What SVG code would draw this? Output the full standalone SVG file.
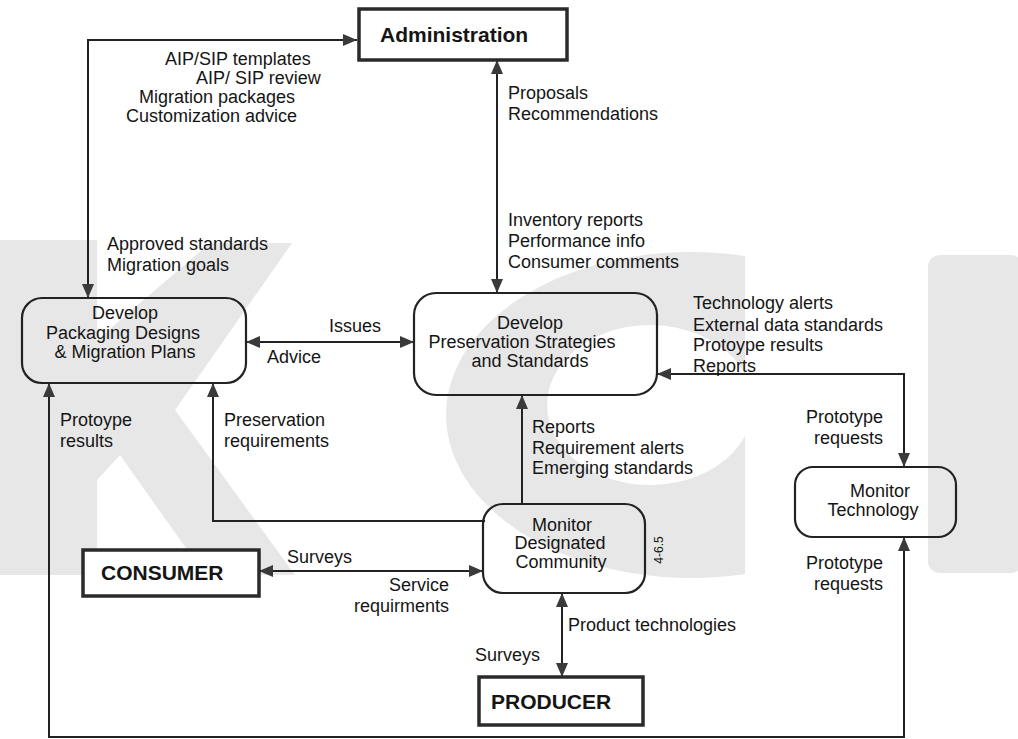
<svg xmlns="http://www.w3.org/2000/svg" width="1018" height="739" viewBox="0 0 1018 739">
<style>
text{font-family:"Liberation Sans",Arial,sans-serif;fill:#151515}
.l{font-size:18px}
.t{font-size:18px;text-anchor:middle}
.b{font-size:21px;font-weight:bold}
.box{fill:#fff;stroke:#2a2a2a;stroke-width:3.5}
.node{fill:none;stroke:#222;stroke-width:2.2}
.c{fill:none;stroke:#222;stroke-width:2}
.wm{fill:#e7e7e7}
</style>
<defs>
<marker id="ah" viewBox="0 0 14 12" refX="14" refY="6" markerWidth="14" markerHeight="12" orient="auto-start-reverse" markerUnits="userSpaceOnUse"><path d="M0,0 L14,6 L0,12 z" fill="#3a3a3a"/></marker>
</defs>
<rect width="1018" height="739" fill="#fff"/>
<g id="watermark">
<path class="wm" d="M0,240 H97 V340 L210,243 H292 L175,410 L295,575 H205 L120,455 L97,480 V575 H0 Z"/>
<path class="wm" d="M745,256 A245,163 0 1 0 745,574 L745,436 A103,80 0 1 1 745,374 Z"/>
<rect class="wm" x="928" y="255" width="95" height="318" rx="12"/>
</g>
<g id="connectors">
<path class="c" d="M88,298 V40 H357" marker-start="url(#ah)" marker-end="url(#ah)"/>
<path class="c" d="M497,60 V293" marker-start="url(#ah)" marker-end="url(#ah)"/>
<path class="c" d="M246,342 H414" marker-start="url(#ah)" marker-end="url(#ah)"/>
<path class="c" d="M904,467 V374 H657" marker-start="url(#ah)" marker-end="url(#ah)"/>
<path class="c" d="M485,521 H213 V383" marker-end="url(#ah)"/>
<path class="c" d="M522,504 V395" marker-end="url(#ah)"/>
<path class="c" d="M259,571 H483" marker-start="url(#ah)" marker-end="url(#ah)"/>
<path class="c" d="M562,593 V677" marker-start="url(#ah)" marker-end="url(#ah)"/>
<path class="c" d="M904,537 V737 H49 V383" marker-start="url(#ah)" marker-end="url(#ah)"/>
</g>
<g id="administration">
<rect class="box" x="359" y="9" width="208" height="51"/>
<text class="b" x="380" y="42">Administration</text>
</g>
<g id="packaging">
<rect class="node" x="22" y="298" width="224" height="85" rx="20"/>
<text class="t" x="125" y="319">Develop</text>
<text class="t" x="123" y="339">Packaging Designs</text>
<text class="t" x="125" y="358">&amp; Migration Plans</text>
</g>
<g id="preservation">
<rect class="node" x="414" y="293" width="243" height="102" rx="22"/>
<text class="t" x="530" y="329">Develop</text>
<text class="t" x="522" y="348">Preservation Strategies</text>
<text class="t" x="530" y="367">and Standards</text>
</g>
<g id="monitor-community">
<rect class="node" x="483" y="504" width="162" height="89" rx="20"/>
<text class="t" x="562" y="531">Monitor</text>
<text class="t" x="560" y="549">Designated</text>
<text class="t" x="561" y="568">Community</text>
<text x="663" y="550" font-size="12" text-anchor="middle" transform="rotate(-90 663 550)">4-6.5</text>
</g>
<g id="monitor-technology">
<rect class="node" x="795" y="467" width="161" height="70" rx="18"/>
<text class="t" x="880" y="497">Monitor</text>
<text class="t" x="873" y="516">Technology</text>
</g>
<g id="consumer">
<rect class="box" x="83" y="550" width="176" height="46"/>
<text class="b" x="101" y="580">CONSUMER</text>
</g>
<g id="producer">
<rect class="box" x="479" y="677" width="164" height="48"/>
<text class="b" x="491" y="709">PRODUCER</text>
</g>
<g id="labels">
<text class="l" x="165" y="65">AIP/SIP templates</text>
<text class="l" x="196" y="84">AIP/ SIP review</text>
<text class="l" x="139" y="103">Migration packages</text>
<text class="l" x="126" y="122">Customization advice</text>
<text class="l" x="107" y="250">Approved standards</text>
<text class="l" x="107" y="271">Migration goals</text>
<text class="l" x="508" y="99">Proposals</text>
<text class="l" x="508" y="120">Recommendations</text>
<text class="l" x="508" y="226">Inventory reports</text>
<text class="l" x="508" y="247">Performance info</text>
<text class="l" x="508" y="268">Consumer comments</text>
<text class="l" x="693" y="309">Technology alerts</text>
<text class="l" x="693" y="331">External data standards</text>
<text class="l" x="693" y="351">Protoype results</text>
<text class="l" x="693" y="372">Reports</text>
<text class="l" x="329" y="332">Issues</text>
<text class="l" x="267" y="363">Advice</text>
<text class="l" x="60" y="426">Protoype</text>
<text class="l" x="60" y="447">results</text>
<text class="l" x="224" y="426">Preservation</text>
<text class="l" x="224" y="447">requirements</text>
<text class="l" x="532" y="433">Reports</text>
<text class="l" x="532" y="454">Requirement alerts</text>
<text class="l" x="532" y="474">Emerging standards</text>
<text class="l" x="883" y="423" text-anchor="end">Prototype</text>
<text class="l" x="883" y="444" text-anchor="end">requests</text>
<text class="l" x="883" y="569" text-anchor="end">Prototype</text>
<text class="l" x="883" y="590" text-anchor="end">requests</text>
<text class="l" x="287" y="563">Surveys</text>
<text class="l" x="449" y="591" text-anchor="end">Service</text>
<text class="l" x="449" y="612" text-anchor="end">requirments</text>
<text class="l" x="568" y="631">Product technologies</text>
<text class="l" x="475" y="661">Surveys</text>
</g>
</svg>
